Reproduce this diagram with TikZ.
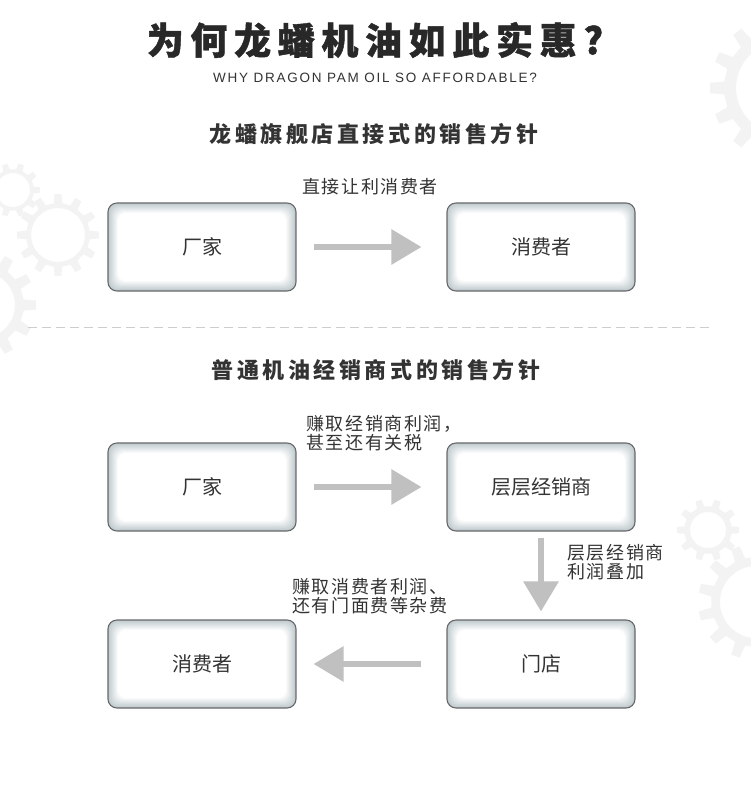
\documentclass[tikz,border=0pt]{standalone}
\usepackage{fontspec}
\setmainfont{Noto Sans CJK SC}
\newfontfamily\titlefont{Noto Sans CJK SC}[LetterSpace=18,BoldFeatures={FakeBold=1.2}]
\newfontfamily\headfont{Noto Sans CJK SC}[LetterSpace=16]
\newfontfamily\labfont{Noto Sans CJK SC}[LetterSpace=9]
\newfontfamily\latinfont{Liberation Sans}[LetterSpace=13]
\usetikzlibrary{arrows.meta}
\definecolor{gearcol}{RGB}{243,243,243}
\definecolor{glowc}{RGB}{190,201,205}
\definecolor{boxborder}{RGB}{105,105,105}
\definecolor{textc}{RGB}{51,51,51}
\definecolor{titlec}{RGB}{40,40,40}
\definecolor{arrowc}{RGB}{192,192,192}
\definecolor{dashc}{RGB}{205,205,205}
\newcommand\mygear[6]{%
\pgfmathsetmacro\gs{360/#3}%
\fill[gearcol,even odd rule,shift={(#1,#2)}] ({-0.25*\gs}:#4)
 \foreach \k in {1,...,#3}{ -- ({(\k-1)*\gs-0.25*\gs}:#4) -- ({(\k-1)*\gs-0.16*\gs}:#5) -- ({(\k-1)*\gs+0.16*\gs}:#5) -- ({(\k-1)*\gs+0.25*\gs}:#4) -- ({(\k-1)*\gs+0.75*\gs}:#4)} -- cycle (0,0) circle (#6);}
\begin{document}
\begin{tikzpicture}[x=1pt,y=-1pt,
  box/.style={minimum width=188pt, minimum height=88pt, rounded corners=9pt, draw=boxborder, line width=1.1pt, inner sep=0pt,
    font=\fontsize{20}{22}\selectfont, text=textc,
    path picture={\foreach \i in {0,...,10}{\fill[white!\i0!glowc, rounded corners=8pt] ([shift={(\i pt,\i pt)}]path picture bounding box.south west) rectangle ([shift={(-\i pt,-\i pt)}]path picture bounding box.north east);}}},
  arr/.style={draw=arrowc, line width=6pt, -{Triangle[length=30pt,width=34pt]}},
  lab/.style={font=\labfont\fontsize{18}{19.5}\selectfont, text=textc, align=left, inner sep=0pt},
  head/.style={font=\headfont\bfseries\fontsize{22}{24}\selectfont, text=textc, inner sep=0pt},
]
\useasboundingbox (0,0) rectangle (750,808);
\fill[white] (0,0) rectangle (750,808);
% background gears
\mygear{13}{190}{10}{21}{27}{17}
\mygear{58}{235}{12}{32}{41}{27}
\mygear{-18}{305}{12}{42}{54}{33}
\mygear{782}{88}{14}{58}{72}{46}
\mygear{708}{530}{10}{24}{31}{18}
\mygear{756}{602}{13}{45}{58}{36}
% title
\node[font=\titlefont\bfseries\fontsize{37}{40}\selectfont, text=titlec, inner sep=0pt] (title) at (375,40) {为何龙蟠机油如此实惠?};
\node[font=\latinfont\fontsize{13.5}{15}\selectfont, text=textc, inner sep=0pt] (sub) at (375,78) {WHY DRAGON PAM OIL SO AFFORDABLE?};
% section 1
\node[head] (h1) at (374,134) {龙蟠旗舰店直接式的销售方针};
\node[box] (f1) at (202,247) {厂家};
\node[box] (c1) at (541,247) {消费者};
\draw[arr, shorten <=17pt, shorten >=25pt] (f1) -- (c1);
\node[lab] (l1) at (370,187) {直接让利消费者};
% separator
\draw[dashc, line width=1pt, dash pattern=on 9pt off 5pt] (28,327) coordinate (s1) -- (710,327) coordinate (s2);
% section 2
\node[head] (h2) at (376,370) {普通机油经销商式的销售方针};
\node[box] (f2) at (202,487) {厂家};
\node[box] (d2) at (541,487) {层层经销商};
\node[box] (m2) at (541,664) {门店};
\node[box] (c2) at (202,664) {消费者};
\draw[arr, shorten <=17pt, shorten >=25pt] (f2) -- (d2);
\draw[arr, shorten <=6pt, shorten >=8pt] (d2) -- (m2);
\draw[arr, shorten <=25pt, shorten >=17pt] (m2) -- (c2);
\node[lab, anchor=west] (l2) at (306,433) {赚取经销商利润，\\甚至还有关税};
\node[lab, anchor=west] (l3) at (567,562) {层层经销商\\利润叠加};
\node[lab, anchor=west] (l4) at (292,596) {赚取消费者利润、\\还有门面费等杂费};
\end{tikzpicture}
\end{document}
